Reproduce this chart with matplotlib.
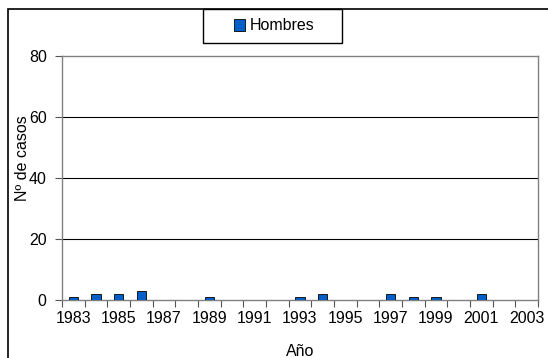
import matplotlib.pyplot as plt
import numpy as np
from matplotlib.patches import Rectangle

plt.rcParams["font.family"] = ["Liberation Sans", "DejaVu Sans"]

# casos por año
years = list(range(1983, 2004))
hombres = [1, 2, 2, 3, 0, 0, 1, 0, 0, 0, 1, 2, 0, 0, 2, 1, 1, 0, 2, 0, 0]
y_ticks = [0, 20, 40, 60, 80]

W, H = 548, 358
fs = 11.5
fig = plt.figure(figsize=(W / 100, H / 100), dpi=100)
ax = fig.add_axes([62 / W, (H - 300) / H, (538 - 62) / W, (300 - 56) / H])

x = np.arange(len(years))
ax.bar(x, hombres, width=0.4, color="#0060C8", edgecolor="black", linewidth=0.6,
       label="Hombres", zorder=3)

ax.set_xlim(-0.5, len(years) - 0.5)
ax.set_ylim(0, 80)

# lineas de division en 20, 40, 60
for v in y_ticks[1:-1]:
    ax.axhline(v, color="black", linewidth=0.8, zorder=1)

ax.set_yticks(y_ticks)
ax.tick_params(axis="y", direction="out", length=5, width=0.8, color="#555555",
               labelsize=fs, pad=6)

# ticks entre categorias, etiquetas cada dos años
ax.set_xticks(np.arange(len(years) + 1) - 0.5)
ax.set_xticklabels([])
ax.tick_params(axis="x", which="major", direction="out", length=5, width=0.8,
               color="#555555")
ax.set_xticks(x[::2], minor=True)
ax.set_xticklabels([str(y) for y in years[::2]], minor=True)
ax.tick_params(axis="x", which="minor", length=0, labelsize=fs, pad=8)

for s in ax.spines.values():
    s.set_color("#808080")
    s.set_linewidth(1.0)

fig.text(23 / W, 1 - 158 / H, "Nº de casos", rotation=90, ha="center", va="center",
         fontsize=fs)
fig.text(300 / W, 1 - 351 / H, "Año", ha="center", va="center", fontsize=fs)

# marco exterior del grafico
fig.patches.append(Rectangle((8 / W, -0.1), 1.2, 1 - 9 / H + 0.1, transform=fig.transFigure,
                             fill=False, edgecolor="black", linewidth=1.2))

# recuadro de la leyenda
fig.patches.append(Rectangle((203 / W, 1 - 43 / H), 139 / W, 34 / H,
                             transform=fig.transFigure, facecolor="white",
                             edgecolor="black", linewidth=1.0, zorder=4))
fig.legend(loc="center", bbox_to_anchor=(274.5 / W, 1 - 26 / H), fontsize=fs,
           frameon=False, handlelength=0.7, handleheight=0.7, handletextpad=0.3,
           borderpad=0, borderaxespad=0).set_zorder(5)

fig.savefig("out.png", dpi=100)
